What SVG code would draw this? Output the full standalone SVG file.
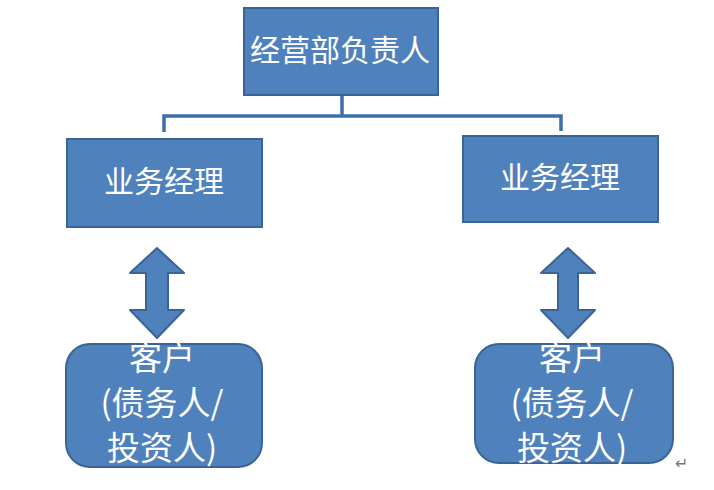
<svg xmlns="http://www.w3.org/2000/svg" width="714" height="490" viewBox="0 0 714 490">
<style>
.box{fill:#4F81BD;stroke:#3A6496;stroke-width:2}
.t{fill:#FFFFFF;font-family:"Noto Sans CJK SC","Noto Sans",sans-serif;font-size:30px;text-anchor:middle}
.c{font-size:33px}
.con{fill:none;stroke:#3F6FA8;stroke-width:3.5}
.arr{fill:#4F81BD;stroke:#3A6496;stroke-width:2;stroke-linejoin:round}
</style>
<rect width="714" height="490" fill="#FFFFFF"/>
<g id="connectors">
<path class="con" d="M342 96 V116 M164 132 V116 H561 V131"/>
<path id="arrow-left" class="arr" d="M157 248 L184 273 H168 V310 H184 L157 338 L130 310 H146 V273 H130 Z"/>
<path id="arrow-right" class="arr" d="M568 248 L595 273 H578 V310 H595 L568 338 L541 310 H558 V273 H541 Z"/>
</g>
<g id="head">
<rect class="box" x="244" y="8" width="194" height="87"/>
<text class="t" x="340" y="61" font-size="31">经营部负责人</text>
</g>
<g id="manager-left">
<rect class="box" x="67" y="139" width="195" height="88"/>
<text class="t" x="164" y="192">业务经理</text>
</g>
<g id="manager-right">
<rect class="box" x="463" y="136" width="195" height="86"/>
<text class="t" x="560" y="188">业务经理</text>
</g>
<g id="client-left">
<rect class="box" x="66" y="344" width="196" height="123" rx="24"/>
<text class="t c" x="162" y="370">客户</text>
<text class="t c" x="162" y="415">(债务人/</text>
<text class="t c" x="162" y="460">投资人)</text>
</g>
<g id="client-right">
<rect class="box" x="475" y="344" width="198" height="119" rx="24"/>
<text class="t c" x="572" y="370">客户</text>
<text class="t c" x="572" y="415">(债务人/</text>
<text class="t c" x="572" y="460">投资人)</text>
</g>
<text x="675" y="469" font-family="DejaVu Sans, sans-serif" font-size="16" fill="#777777">↵</text>
</svg>
